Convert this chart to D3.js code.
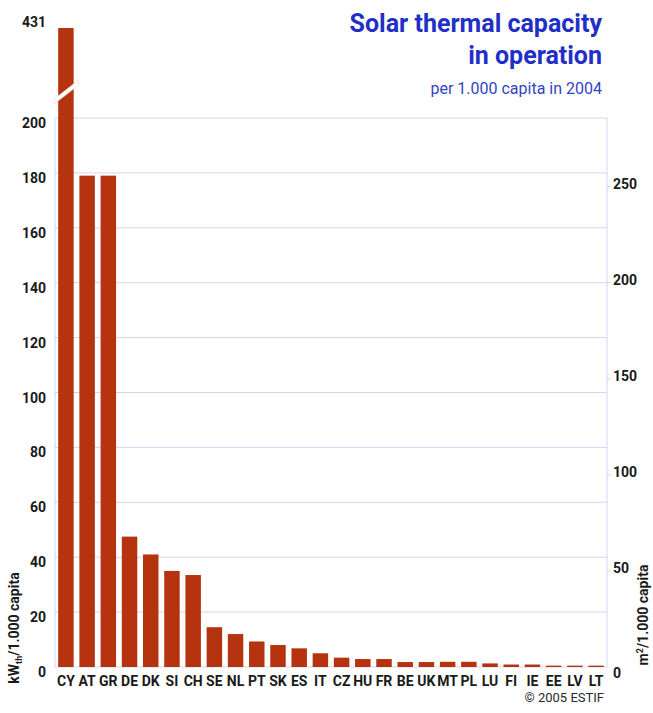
<!DOCTYPE html>
<html>
<head>
<meta charset="utf-8">
<script src="https://cdn.jsdelivr.net/npm/d3@7"></script>
<style>
  body { margin: 0; background: #fff; }
  text { font-family: "Liberation Sans Narrow", Roboto, sans-serif; }
</style>
</head>
<body>
<div id="chart"></div>
<script>
var countries = ["CY", "AT", "GR", "DE", "DK", "SI", "CH", "SE", "NL", "PT", "SK", "ES", "IT",
  "CZ", "HU", "FR", "BE", "UK", "MT", "PL", "LU", "FI", "IE", "EE", "LV", "LT"];
var capacity = [431, 179, 179, 47.5, 41, 35, 33.5, 14.5, 12, 9.3, 8, 6.8, 5,
  3.4, 2.9, 2.9, 1.8, 1.8, 1.9, 1.9, 1.3, 0.9, 0.9, 0.5, 0.5, 0.5];
var leftTicks = [0, 20, 40, 60, 80, 100, 120, 140, 160, 180, 200];
var rightTicks = [0, 50, 100, 150, 200, 250];
var m2ToKw = 0.7;

var data = countries.map(function(c, i) {
  return { country: c, value: capacity[i] };
});

var width = 653, height = 713;
var plotLeft = 55, plotRight = 607, plotTop = 118, plotBottom = 667;

var svg = d3.select("#chart")
  .append("svg")
  .attr("width", width)
  .attr("height", height);

var x = d3.scaleBand()
  .domain(countries)
  .range([plotLeft, plotRight])
  .paddingInner(0.27)
  .paddingOuter(0.15);

// broken axis: 0-200 is linear, above that the bar is squeezed
var y = d3.scaleLinear()
  .domain([0, 200, 431])
  .range([plotBottom, plotTop, 28]);

var grid = "#d4d4f2";

// gridlines
svg.append("g")
  .selectAll("line")
  .data(leftTicks)
  .enter()
  .append("line")
  .attr("x1", plotLeft)
  .attr("x2", plotRight)
  .attr("y1", d => y(d))
  .attr("y2", d => y(d))
  .attr("stroke", grid)
  .attr("stroke-width", 1);

// frame sides
svg.append("line")
  .attr("x1", plotLeft).attr("x2", plotLeft)
  .attr("y1", plotTop).attr("y2", plotBottom)
  .attr("stroke", grid);
svg.append("line")
  .attr("x1", plotRight).attr("x2", plotRight)
  .attr("y1", plotTop).attr("y2", plotBottom)
  .attr("stroke", grid);

// left tick labels
svg.append("g")
  .selectAll("text")
  .data(leftTicks)
  .enter()
  .append("text")
  .attr("x", 46)
  .attr("y", d => y(d) + 10)
  .attr("text-anchor", "end")
  .attr("font-size", 14)
  .attr("font-weight", "bold")
  .attr("fill", "#1a1a1a")
  .text(d => d);

svg.append("text")
  .attr("x", 46)
  .attr("y", y(431) - 1)
  .attr("text-anchor", "end")
  .attr("font-size", 14)
  .attr("font-weight", "bold")
  .attr("fill", "#1a1a1a")
  .text("431");

// right axis (m2 per 1.000 capita)
var r = svg.append("g");
r.selectAll("line")
  .data(rightTicks.filter(d => d > 0))
  .enter()
  .append("line")
  .attr("x1", plotRight)
  .attr("x2", plotRight + 4)
  .attr("y1", d => y(d * m2ToKw))
  .attr("y2", d => y(d * m2ToKw))
  .attr("stroke", grid);
r.selectAll("text")
  .data(rightTicks)
  .enter()
  .append("text")
  .attr("x", 613)
  .attr("y", d => d == 0 ? plotBottom + 11 : y(d * m2ToKw) + 2)
  .attr("font-size", 14)
  .attr("font-weight", "bold")
  .attr("fill", "#1a1a1a")
  .text(d => d);

// bars
svg.append("g")
  .selectAll("rect")
  .data(data)
  .enter()
  .append("rect")
  .attr("x", d => x(d.country))
  .attr("width", x.bandwidth())
  .attr("y", d => y(d.value))
  .attr("height", d => plotBottom - y(d.value))
  .attr("fill", "#b5340f");

// break mark on the CY bar
var bx = x("CY");
svg.append("path")
  .attr("d", "M" + (bx - 4) + "," + 99 + " L" + (bx + x.bandwidth() + 5) + "," + 80 +
    " L" + (bx + x.bandwidth() + 5) + "," + 85 + " L" + (bx - 4) + "," + 104 + "Z")
  .attr("fill", "#fff")
  .attr("stroke", "#f0d8d0")
  .attr("stroke-width", 0.6);

// country labels
svg.append("g")
  .selectAll("text")
  .data(countries)
  .enter()
  .append("text")
  .attr("x", d => x(d) + x.bandwidth() / 2)
  .attr("y", 686)
  .attr("text-anchor", "middle")
  .attr("font-size", 14)
  .attr("font-weight", "bold")
  .attr("fill", "#1a1a1a")
  .text(d => d);

// axis titles
var lt = svg.append("text")
  .attr("transform", "translate(19,628) rotate(-90)")
  .attr("text-anchor", "middle")
  .attr("font-size", 14)
  .attr("font-weight", "bold")
  .attr("fill", "#1a1a1a");
lt.append("tspan").text("kW");
lt.append("tspan").attr("font-size", 9).attr("dy", 3).text("th");
lt.append("tspan").attr("dy", -3).text("/1.000 capita");

var rt = svg.append("text")
  .attr("transform", "translate(648,615) rotate(-90)")
  .attr("text-anchor", "middle")
  .attr("font-size", 14)
  .attr("font-weight", "bold")
  .attr("fill", "#1a1a1a");
rt.append("tspan").text("m");
rt.append("tspan").attr("font-size", 9).attr("dy", -5).text("2");
rt.append("tspan").attr("dy", 5).text("/1.000 capita");

// titles
svg.append("text")
  .attr("x", 602)
  .attr("y", 32)
  .attr("text-anchor", "end")
  .attr("font-size", 25)
  .attr("font-weight", "bold")
  .attr("fill", "#1f30c8")
  .text("Solar thermal capacity");
svg.append("text")
  .attr("x", 602)
  .attr("y", 64)
  .attr("text-anchor", "end")
  .attr("font-size", 25)
  .attr("font-weight", "bold")
  .attr("fill", "#1f30c8")
  .text("in operation");
svg.append("text")
  .attr("x", 602)
  .attr("y", 94)
  .attr("text-anchor", "end")
  .attr("font-size", 16)
  .attr("fill", "#3444c4")
  .text("per 1.000 capita in 2004");

svg.append("text")
  .attr("x", 604)
  .attr("y", 702)
  .attr("text-anchor", "end")
  .attr("font-size", 13)
  .attr("fill", "#2a2a2a")
  .text("© 2005 ESTIF");
</script>
</body>
</html>
